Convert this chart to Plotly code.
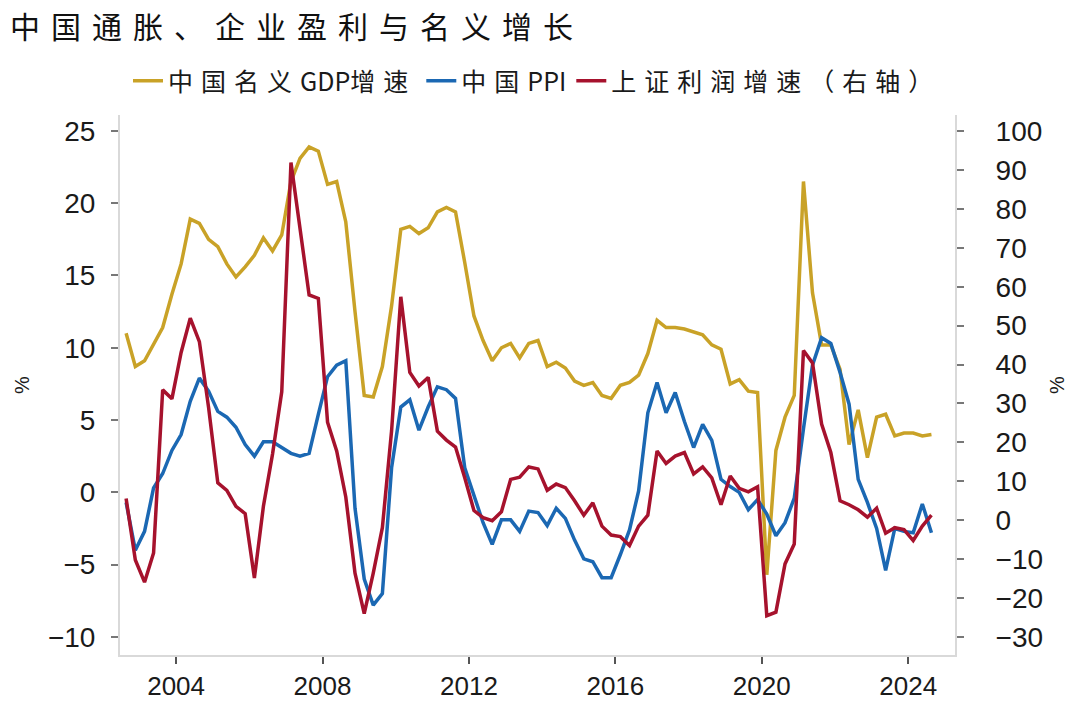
import pandas as pd
import plotly.graph_objects as go

# Quarterly data, 2002Q3 - 2024Q3
quarters = pd.period_range("2002Q3", "2024Q3", freq="Q")

nominal_gdp = [
    11.0, 8.7, 9.1, 10.2, 11.4, 13.7, 15.8, 18.9, 18.6, 17.5,
    17.0, 15.8, 14.9, 15.6, 16.4, 17.6, 16.7, 17.8, 21.5, 23.1,
    23.9, 23.6, 21.3, 21.5, 18.7, 12.5, 6.7, 6.6, 8.7, 12.9,
    18.2, 18.4, 17.9, 18.3, 19.4, 19.7, 19.4, 15.9, 12.2, 10.5,
    9.1, 10.0, 10.3, 9.3, 10.3, 10.5, 8.7, 9.0, 8.6, 7.7,
    7.4, 7.6, 6.7, 6.5, 7.4, 7.6, 8.1, 9.6, 11.9, 11.4,
    11.4, 11.3, 11.1, 10.9, 10.2, 9.9, 7.5, 7.8, 7.0, 6.9,
    -5.7, 2.9, 5.2, 6.7, 21.5, 13.8, 10.2, 10.2, 8.5, 3.3,
    5.7, 2.4, 5.2, 5.4, 3.9, 4.1, 4.1, 3.9, 4.0,
]

ppi = [
    -0.7, -4.0, -2.7, 0.3, 1.3, 2.9, 4.0, 6.3, 7.9, 7.0,
    5.6, 5.2, 4.5, 3.3, 2.5, 3.5, 3.5, 3.1, 2.7, 2.5,
    2.7, 5.4, 8.0, 8.8, 9.1, -1.1, -6.0, -7.8, -7.0, 1.7,
    5.9, 6.4, 4.3, 5.9, 7.3, 7.1, 6.5, 1.7, -0.3, -2.1,
    -3.6, -1.9, -1.9, -2.7, -1.3, -1.4, -2.3, -1.1, -1.8, -3.3,
    -4.6, -4.8, -5.9, -5.9, -4.3, -2.6, 0.1, 5.5, 7.6, 5.5,
    6.9, 4.9, 3.1, 4.7, 3.6, 0.9, 0.4, 0.0, -1.2, -0.5,
    -1.5, -3.0, -2.1, -0.4, 4.4, 8.8, 10.7, 10.3, 8.3, 6.1,
    0.9, -0.7, -2.5, -5.4, -2.5, -2.7, -2.8, -0.8, -2.8,
]

sh_profit = [
    5.6, -10.2, -15.9, -8.4, 33.5, 31.2, 43.1, 51.9, 45.9, 29.0,
    9.6, 7.7, 3.6, 1.7, -14.8, 3.6, 17.0, 33.0, 91.9, 75.0,
    57.9, 57.0, 25.2, 17.8, 6.0, -13.6, -24.0, -13.6, -1.9, 23.0,
    57.4, 38.0, 34.5, 36.7, 22.9, 20.6, 18.8, 10.9, 2.5, 0.7,
    -0.1, 2.2, 10.5, 11.1, 13.7, 13.2, 7.7, 9.3, 8.4, 5.0,
    1.3, 4.5, -1.5, -3.8, -4.2, -6.5, -1.5, 1.3, 17.8, 14.6,
    16.5, 17.4, 11.9, 13.7, 10.9, 4.0, 11.4, 8.2, 7.3, 8.6,
    -24.5, -23.6, -11.2, -6.1, 43.6, 40.4, 24.7, 17.4, 5.0, 4.0,
    2.7, 0.8, 3.1, -3.3, -1.9, -2.4, -5.2, -1.5, 1.3,
]

# legend names split into CJK / Latin runs (CJK runs get wider letter spacing)
series_name_parts = [
    ["中国名义", "GDP", "增速"],
    ["中国", "PPI", ""],
    ["上证利润增速（右轴）", "", ""],
]
title_text = "中国通胀、企业盈利与名义增长"
left_ticks = [-10, -5, 0, 5, 10, 15, 20, 25]
right_ticks = list(range(-30, 101, 10))
year_ticks = [2004, 2008, 2012, 2016, 2020, 2024]

dates = quarters.to_timestamp(how="start") + pd.Timedelta(days=50)

GOLD = "#C9A227"
BLUE = "#1B68B3"
RED = "#A6122D"


def spaced(s, px):
    return f'<span style="letter-spacing:{px}px">{s}</span>' if s else ""


def legend_name(parts):
    a, b, c = parts
    return spaced(a, 8) + b + spaced(c, 8)


fig = go.Figure()
fig.add_trace(go.Scatter(x=dates, y=nominal_gdp, name=legend_name(series_name_parts[0]),
                         mode="lines", line=dict(color=GOLD, width=3.5)))
fig.add_trace(go.Scatter(x=dates, y=ppi, name=legend_name(series_name_parts[1]),
                         mode="lines", line=dict(color=BLUE, width=3.5)))
fig.add_trace(go.Scatter(x=dates, y=sh_profit, name=legend_name(series_name_parts[2]),
                         mode="lines", line=dict(color=RED, width=3.5), yaxis="y2"))

x_font = dict(family="Liberation Sans, Arial, sans-serif", size=26, color="#1a1a1a")
y_font = dict(family="Liberation Sans, Arial, sans-serif", size=28, color="#1a1a1a")
cjk = "Noto Sans CJK SC"

fig.update_layout(
    width=1080, height=701,
    paper_bgcolor="white", plot_bgcolor="white",
    margin=dict(l=120, r=125, t=115, b=46, autoexpand=False),
    title=dict(
        text=spaced(title_text, 11),
        x=10 / 1080, xanchor="left", xref="container",
        y=1 - 27 / 701, yanchor="middle", yref="container",
        pad=dict(l=0, r=0, t=0, b=0),
        font=dict(family=cjk, size=30, color="#111111"),
    ),
    showlegend=True,
    legend=dict(
        orientation="h", x=0.5, xanchor="center", y=(655 - 81) / 540, yanchor="middle",
        font=dict(family=cjk, size=25, color="#1a1a1a"),
        bgcolor="rgba(0,0,0,0)", itemwidth=30, tracegroupgap=0,
    ),
    xaxis=dict(
        type="date", automargin=False,
        range=["2002-06-20", "2025-04-12"],
        tickvals=[pd.Timestamp(f"{y}-01-01") for y in year_ticks],
        ticktext=[str(y) for y in year_ticks],
        ticks="outside", ticklen=7, tickcolor="#555555", tickwidth=1.5,
        showline=True, linecolor="#D9D9D9", linewidth=2,
        showgrid=False, zeroline=False, tickfont=x_font,
    ),
    yaxis=dict(
        range=[-11.25, 26.1], tickvals=left_ticks, automargin=False,
        ticks="outside", ticklen=7, tickcolor="#777777", tickwidth=1.5,
        showline=True, linecolor="#D9D9D9", linewidth=2,
        showgrid=False, zeroline=False, tickfont=y_font, ticklabelstandoff=10,
    ),
    yaxis2=dict(
        range=[-34.6, 104.1], tickvals=right_ticks, overlaying="y", side="right",
        automargin=False,
        ticks="outside", ticklen=7, tickcolor="#777777", tickwidth=1.5,
        showline=True, linecolor="#D9D9D9", linewidth=2,
        showgrid=False, zeroline=False, tickfont=y_font, ticklabelstandoff=26,
    ),
    annotations=[
        dict(text="%", xref="paper", yref="paper", x=(22 - 120) / 835, y=0.5,
             xanchor="center", yanchor="middle", showarrow=False, textangle=-90,
             font=dict(family="Liberation Sans, Arial", size=20, color="#1a1a1a")),
        dict(text="%", xref="paper", yref="paper", x=(1057 - 120) / 835, y=0.5,
             xanchor="center", yanchor="middle", showarrow=False, textangle=-90,
             font=dict(family="Liberation Sans, Arial", size=20, color="#1a1a1a")),
    ],
)

# remove the browser's default 8px page margin so the figure fills the window exactly
fig.write_html("out.html", config={"displayModeBar": False},
               post_script="document.body.style.margin='0';")
